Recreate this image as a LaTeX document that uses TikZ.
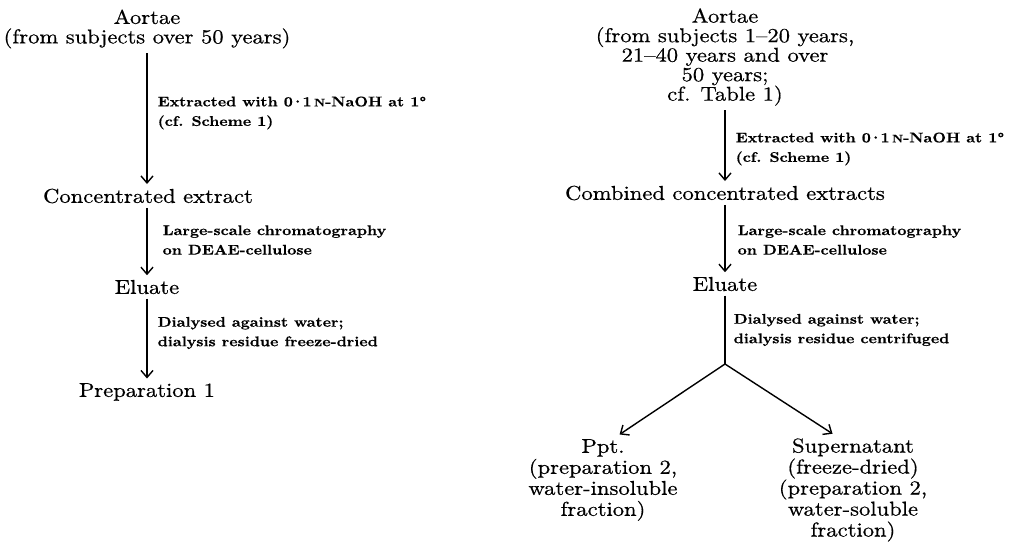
\documentclass[tikz,border=0pt]{standalone}
\usepackage{fontspec}
\setmainfont{lmroman10-regular.otf}[FakeStretch=1.13,FakeBold=0.6]
\newfontfamily\notefont{lmroman10-bold.otf}[FakeStretch=1.13,FakeBold=0.5]
\usetikzlibrary{arrows.meta}
\newcommand{\normN}{{\fontsize{5.5}{6}\selectfont N}}
\newcommand{\cdotnum}[2]{#1\kern-1.1pt·\kern-1.1pt#2}

\begin{document}
\begin{tikzpicture}[x=0.5pt, y=-0.5pt, line width=0.7pt,
    >={Straight Barb[length=3.5pt,width=6pt]},
    stage/.style={align=center, inner sep=2pt, font=\fontsize{10}{9.75}\selectfont},
    product/.style={align=center, inner sep=2pt, font=\fontsize{10}{10.5}\selectfont},
    note/.style={align=left, anchor=west, inner sep=0pt, font=\notefont\fontsize{7}{9.75}\selectfont}]
    \useasboundingbox (0,0) rectangle (1018,550);

    % Left scheme: preparation 1
    \node[stage] (aortaeL) at (147,29) {Aortae\\(from subjects over 50 years)};
    \node[stage] (concL) at (148,196) {Concentrated extract};
    \node[stage] (eluateL) at (147,287) {Eluate};
    \node[stage] (prepL) at (147,392) {Preparation 1};

    \node[note] (extrL) at (157,113) {Extracted with \cdotnum{0}{1}\,\normN-NaOH at 1°\\(cf. Scheme 1)};
    \node[note] (chromL) at (162,240) {Large-scale chromatography\\on DEAE-cellulose};
    \node[note] (dialL) at (157,333) {Dialysed against water;\\dialysis residue freeze-dried};

    \draw[->] (aortaeL) -- (aortaeL |- concL.north);
    \draw[->] (concL.south -| aortaeL) -- (eluateL);
    \draw[->] (eluateL) -- (prepL);

    % Right scheme: preparation 2
    \node[stage] (aortaeR) at (725,57) {Aortae\\(from subjects 1--20 years,\\21--40 years and over\\50 years;\\cf. Table 1)};
    \node[stage] (combR) at (725,193) {Combined concentrated extracts};
    \node[stage] (eluateR) at (725,284) {Eluate};
    \coordinate (fork) at (725,364);
    \node[product] (ppt) at (603,480) {Ppt.\\(preparation 2,\\water-insoluble\\fraction)};
    \node[product] (sup) at (853,490) {Supernatant\\(freeze-dried)\\(preparation 2,\\water-soluble\\fraction)};

    \node[note] (extrR) at (735,149) {Extracted with \cdotnum{0}{1}\,\normN-NaOH at 1°\\(cf. Scheme 1)};
    \node[note] (chromR) at (737,240) {Large-scale chromatography\\on DEAE-cellulose};
    \node[note] (dialR) at (733,330) {Dialysed against water;\\dialysis residue centrifuged};

    \draw[->] (aortaeR) -- (combR);
    \draw[->] (combR) -- (eluateR);
    \draw (eluateR) -- (fork);
    \draw[->] (fork) -- (ppt.70);
    \draw[->] (fork) -- (sup.110);
\end{tikzpicture}
\end{document}
